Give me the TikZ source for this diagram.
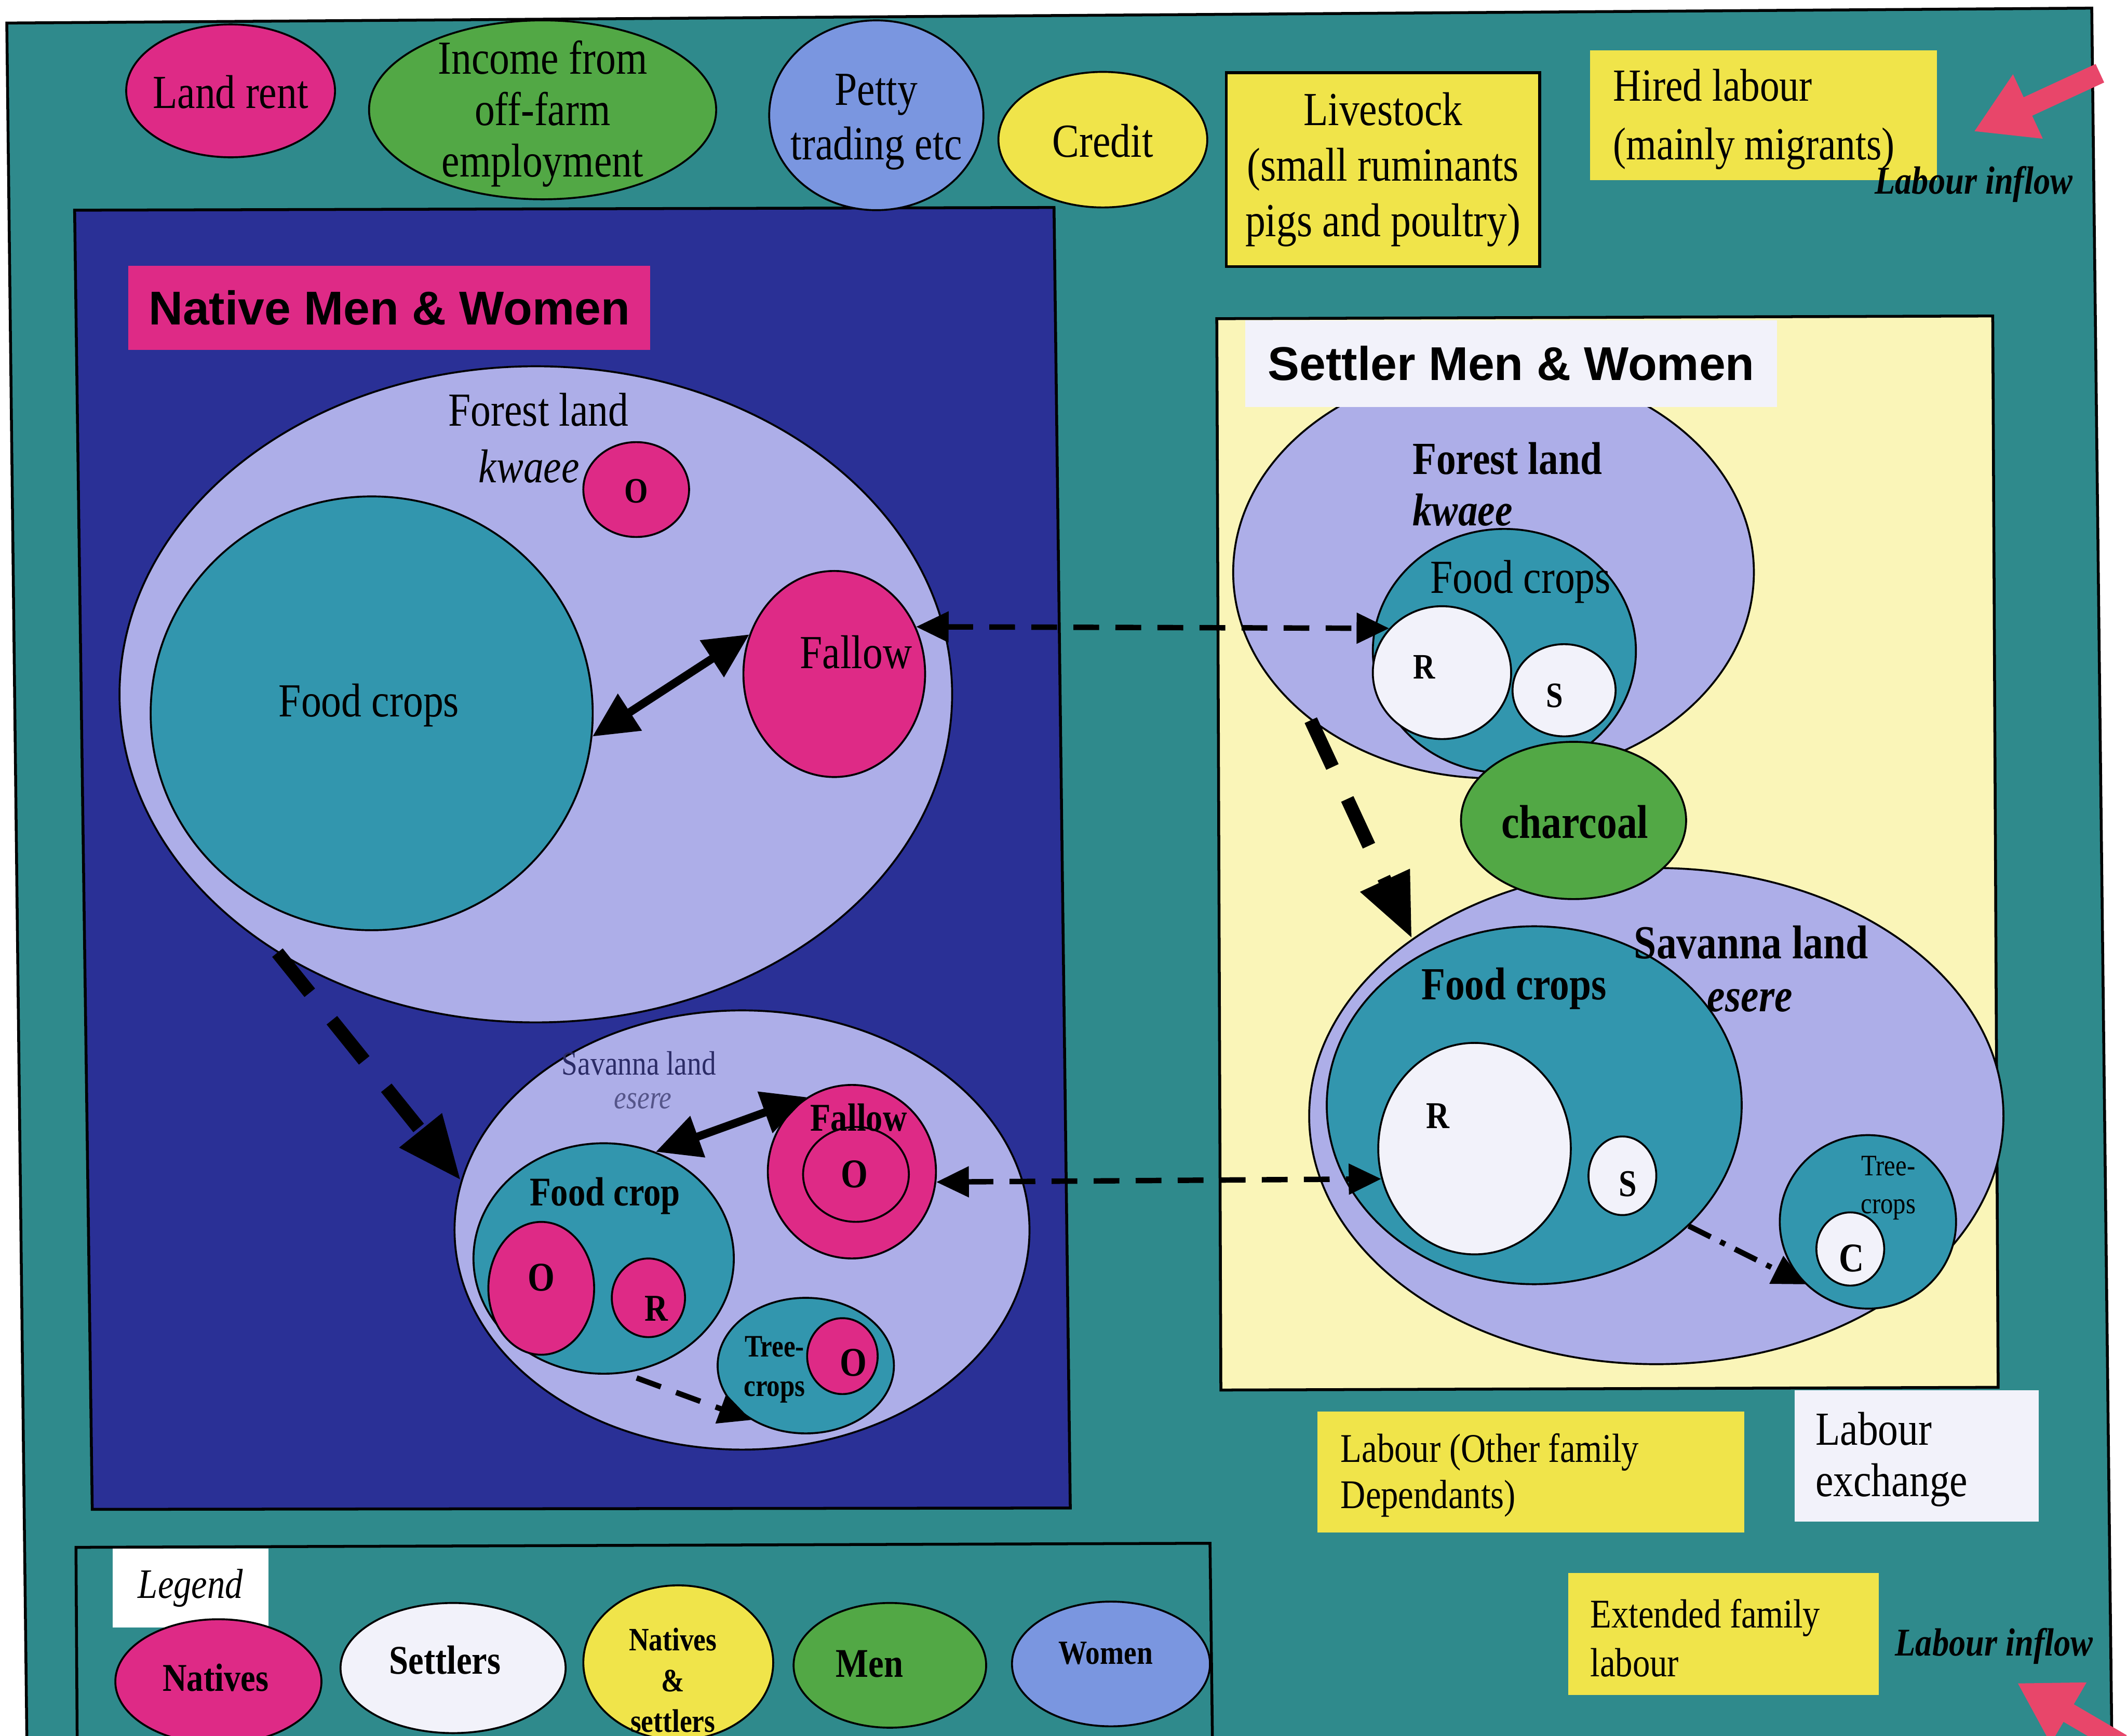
\documentclass[tikz,border=0pt]{standalone}
\usepackage{fontspec}
\setmainfont{Liberation Serif}[FakeStretch=0.85]
\newfontfamily\headfont{Liberation Sans}
\usetikzlibrary{shapes.geometric,arrows.meta}

\definecolor{bgteal}{HTML}{2F8A8C}
\definecolor{natblue}{HTML}{2A3096}
\definecolor{lav}{HTML}{ADAEE8}
\definecolor{pinkc}{HTML}{DE2A86}
\definecolor{cropteal}{HTML}{3296AE}
\definecolor{greenc}{HTML}{52A845}
\definecolor{bluec}{HTML}{7A96E0}
\definecolor{yellowc}{HTML}{F0E44A}
\definecolor{paleyellow}{HTML}{FAF5B8}
\definecolor{whitec}{HTML}{F2F2FA}
\definecolor{inflow}{HTML}{E8466A}
\definecolor{navytext}{HTML}{2B2B66}
\definecolor{greytext}{HTML}{55558A}

\newcommand\fs[2]{\fontsize{#1pt}{#2pt}\selectfont}

\begin{document}
\begin{tikzpicture}[x=0.02cm,y=-0.02cm,
  el/.style 2 args={ellipse, draw=black, line width=0.8pt, inner sep=0pt,
    minimum width=#1*0.04cm, minimum height=#2*0.04cm},
  txt/.style={inner sep=0pt, align=center, text=black},
  ltxt/.style={inner sep=0pt, align=left, anchor=west, text=black},
  box/.style={rectangle, inner sep=0pt},
  panel/.style={draw=black, line width=1.2pt},
  bigarrow/.style={line width=0.12cm,
    {Triangle[length=0.66cm,width=0.62cm]}-{Triangle[length=0.66cm,width=0.62cm]}},
  bigdash/.style={line width=0.2cm, dash pattern=on 0.76cm off 0.52cm,
    -{Triangle[length=0.95cm,width=0.75cm]}},
  middash/.style={line width=0.08cm, dash pattern=on 0.38cm off 0.24cm},
  mdd/.style={middash,
    {Triangle[length=0.48cm,width=0.44cm]}-{Triangle[length=0.48cm,width=0.44cm]}},
  mds/.style={middash, -{Triangle[length=0.48cm,width=0.44cm]}},
  ddot/.style={line width=0.08cm, dash pattern=on 0.36cm off 0.16cm on 0.08cm off 0.16cm,
    -{Triangle[length=0.48cm,width=0.44cm]}},
  pinkarrow/.style={draw=inflow, line width=0.3cm, -{Triangle[length=0.88cm,width=0.98cm]}},
]
\useasboundingbox (0,0) rectangle (1568,1280);
\fill[white] (0,0) rectangle (1568,1280);
\clip (0,0) rectangle (1568,1280);

% ---------- board and panels ----------
\filldraw[fill=bgteal, panel] (5,17) -- (1542,6) -- (1557,1300) -- (20,1300) -- cycle;
\filldraw[fill=natblue, panel] (55,155) -- (777,153) -- (789,1112) -- (68,1113) -- cycle;
\filldraw[fill=paleyellow, panel] (897,235) -- (1469,233) -- (1473,1023) -- (900,1025) -- cycle;
\draw[panel] (57,1300) -- (56,1141) -- (892,1138) -- (894,1300);

% ---------- top row: income sources ----------
\node[el={77}{49}, fill=pinkc] (landrent) at (170,67) {};
\node[el={128}{66}, fill=greenc] (income) at (400,81) {};
\node[el={79}{70}, fill=bluec] (petty) at (646,85) {};
\node[el={77}{50}, fill=yellowc] (credit) at (813,103) {};
\node[txt, font=\fs{19.9}{21.6}] (tLand) at (170,68) {Land rent};
\node[txt, font=\fs{19.9}{21.6}] (tIncome) at (400,84) {Income from\\off-farm\\employment};
\node[txt, font=\fs{19.9}{22.8}] (tPetty) at (646,90) {Petty\\trading etc};
\node[txt, font=\fs{19.9}{22}] (tCredit) at (813,104) {Credit};

\node[box, draw=black, line width=1.2pt, fill=yellowc, minimum width=4.62cm,
  minimum height=2.86cm, align=center, font=\fs{19.9}{23.3}] (livestock) at (1019.5,125)
  {Livestock\\(small ruminants\\pigs and poultry)};

\node[box, fill=yellowc, minimum width=5.12cm, minimum height=1.92cm] (hiredBox) at (1300,85) {};
\node[ltxt, font=\fs{19.3}{24.5}] (hiredTxt) at (1189,88) {Hired labour\\(mainly migrants)};

\coordinate (inTopTail) at (1548,54);
\coordinate (inTopTip) at (1455,97);
\draw[pinkarrow] (inTopTail) -- (inTopTip);
\node[txt, font=\fs{16.5}{18}\bfseries\itshape] (inflowTop) at (1455,136) {Labour inflow};

% ---------- native panel ----------
\node[box, fill=pinkc, minimum width=7.7cm, minimum height=1.24cm,
  font=\headfont\bfseries\fs{19.9}{22}] (natLabel) at (287,227) {Native Men \& Women};

\node[el={307}{242}, fill=lav] (forN) at (395,512) {};
\node[el={163}{160}, fill=cropteal] (fcN) at (274,526) {};
\node[el={39}{35}, fill=pinkc] (oN) at (469,361) {};
\node[el={67}{76}, fill=pinkc] (fallowN) at (615,497) {};
\node[txt, font=\fs{19.9}{22}] (tForN) at (397,302) {Forest land};
\node[txt, font=\fs{19.9}{22}\itshape] (tKwN) at (390,344) {kwaee};
\node[txt, font=\fs{19.9}{22}] (tFcN) at (272,520) {Food crops};
\node[txt, font=\fs{19.9}{22}] (tFallowN) at (631,481) {Fallow};
\node[txt, font=\fs{15}{16}\bfseries] (tON) at (469,362) {O};

\node[el={212}{162}, fill=lav] (savN) at (547,907) {};
\node[el={96}{85}, fill=cropteal] (fcsN) at (445,928) {};
\node[el={39}{49}, fill=pinkc] (osN) at (399,950) {};
\node[el={27}{29}, fill=pinkc] (rsN) at (478,957) {};
\node[el={62}{64}, fill=pinkc] (fallowsN) at (628,864) {};
\node[el={39}{35}, fill=pinkc] (fallowsNin) at (631,866) {};
\node[el={65}{50}, fill=cropteal] (treeN) at (594,1007) {};
\node[el={26}{28}, fill=pinkc] (otreeN) at (621,1000) {};
\node[txt, text=navytext, font=\fs{14.2}{16}] (tSavN) at (471,784) {Savanna land};
\node[txt, text=greytext, font=\fs{13.7}{15}\itshape] (tEsN) at (474,812) {esere};
\node[txt, font=\fs{17.1}{19}\bfseries] (tFcsN) at (446,882) {Food crop};
\node[txt, font=\fs{17.1}{19}\bfseries] (tOsN) at (399,942) {O};
\node[txt, font=\fs{15.9}{18}\bfseries] (tRsN) at (484,965) {R};
\node[txt, font=\fs{16.5}{18}\bfseries] (tFallowsN) at (633,824) {Fallow};
\node[txt, font=\fs{17.1}{19}\bfseries] (tOfN) at (630,866) {O};
\node[txt, font=\fs{13.1}{16.5}\bfseries] (tTreeN) at (571,1010) {Tree-\\crops};
\node[txt, font=\fs{17.1}{19}\bfseries] (tOtN) at (629,1005) {O};

% ---------- settler panel ----------
\node[el={192}{152}, fill=lav] (forS) at (1101,422) {};
\node[el={97}{90}, fill=cropteal] (fcS) at (1109,480) {};
\node[el={51}{49}, fill=whitec] (rS) at (1063,496) {};
\node[el={38}{34}, fill=whitec] (sS) at (1153,509) {};
\node[box, fill=whitec, minimum width=7.84cm, minimum height=1.28cm,
  font=\headfont\bfseries\fs{19.9}{22}] (setLabel) at (1114,268) {Settler Men \& Women};
\node[ltxt, font=\fs{19.3}{22}\bfseries] (tForS) at (1041,338) {Forest land};
\node[ltxt, font=\fs{19.3}{22}\bfseries\itshape] (tKwS) at (1041,376) {kwaee};
\node[txt, font=\fs{19.9}{22}] (tFcS) at (1121,429) {Food crops};
\node[txt, font=\fs{15}{17}\bfseries] (tRS) at (1050,492) {R};
\node[txt, font=\fs{15}{17}\bfseries] (tSS) at (1146,513) {S};

\node[el={256}{183}, fill=lav] (savS) at (1221,823) {};
\node[el={153}{132}, fill=cropteal] (fcsS) at (1131,815) {};
\node[el={71}{78}, fill=whitec] (rsS) at (1087,847) {};
\node[el={25}{29}, fill=whitec] (ssS) at (1196,867) {};
\node[el={65}{64}, fill=cropteal] (treeS) at (1377,901) {};
\node[el={25}{27}, fill=whitec] (cS) at (1364,921) {};
\node[el={83}{58}, fill=greenc] (charcoal) at (1160,605) {};
\node[txt, font=\fs{19.9}{22}\bfseries] (tChar) at (1161,606) {charcoal};
\node[txt, font=\fs{19.9}{22}\bfseries] (tSavS) at (1291,695) {Savanna land};
\node[txt, font=\fs{19.9}{22}\bfseries\itshape] (tEsS) at (1290,738) {esere};
\node[txt, font=\fs{19.3}{22}\bfseries] (tFcsS) at (1116,729) {Food crops};
\node[txt, font=\fs{15.9}{18}\bfseries] (tRsS) at (1060,823) {R};
\node[txt, font=\fs{15.9}{18}\bfseries] (tSsS) at (1200,873) {S};
\node[txt, font=\fs{12.5}{15.9}] (tTreeS) at (1392,876) {Tree-\\crops};
\node[txt, font=\fs{17.1}{19}\bfseries] (tCS) at (1365,928) {C};

% ---------- labour boxes ----------
\node[box, fill=yellowc, minimum width=6.3cm, minimum height=1.78cm] (otherBox) at (1128.5,1085.5) {};
\node[ltxt, font=\fs{17.1}{19.4}] (otherTxt) at (988,1088) {Labour (Other family\\Dependants)};
\node[box, fill=whitec, minimum width=3.6cm, minimum height=1.94cm] (exchBox) at (1413,1073.5) {};
\node[ltxt, font=\fs{19.9}{21.6}] (exchTxt) at (1338,1076) {Labour\\exchange};
\node[box, fill=yellowc, minimum width=4.58cm, minimum height=1.8cm] (extBox) at (1270.5,1205) {};
\node[ltxt, font=\fs{17.1}{20.5}] (extTxt) at (1172,1208) {Extended family\\labour};
\node[txt, font=\fs{16.5}{18}\bfseries\itshape] (inflowBot) at (1470,1214) {Labour inflow};
\coordinate (inBotTail) at (1564,1286);
\coordinate (inBotTip) at (1487,1241);
\draw[pinkarrow] (inBotTail) -- (inBotTip);

% ---------- legend ----------
\node[box, fill=white, minimum width=2.3cm, minimum height=1.16cm,
  font=\fs{17.6}{19}\itshape] (legLabel) at (140.5,1171) {Legend};
\node[el={76}{46}, fill=pinkc] (lgNat) at (161,1240) {};
\node[el={83}{48}, fill=whitec] (lgSet) at (334,1230) {};
\node[el={70}{57}, fill=yellowc] (lgBoth) at (500,1226) {};
\node[el={71}{46}, fill=greenc] (lgMen) at (656,1228) {};
\node[el={73}{46}, fill=bluec] (lgWomen) at (819,1227) {};
\node[txt, font=\fs{16.5}{18}\bfseries] (tNat) at (159,1237) {Natives};
\node[txt, font=\fs{17.1}{19}\bfseries] (tSet) at (328,1224) {Settlers};
\node[txt, font=\fs{13.7}{17.1}\bfseries] (tBoth) at (496,1239) {Natives\\\&\\settlers};
\node[txt, font=\fs{17.1}{19}\bfseries] (tMen) at (641,1227) {Men};
\node[txt, font=\fs{14.2}{16}\bfseries] (tWomen) at (815,1219) {Women};

% ---------- flows between land types ----------
\draw[bigarrow] (fcN.-6) -- (fallowN.155);
\draw[mdd] (fallowN.30) -- (rS.140);
\draw[bigdash] (forN.-135) -- (savN.170);
\draw[bigarrow] (fcsN.64) -- (fallowsN.121);
\draw[mds, shorten <=0.2cm] (fcsN.-80) -- (treeN.-135);
\draw[mdd] (fallowsN.-7) -- (rsS.198);
\draw[bigdash] (forS.-141) -- (savS.144);
\draw[ddot] (fcsS.-38) -- (treeS.-135);
\end{tikzpicture}
\end{document}
